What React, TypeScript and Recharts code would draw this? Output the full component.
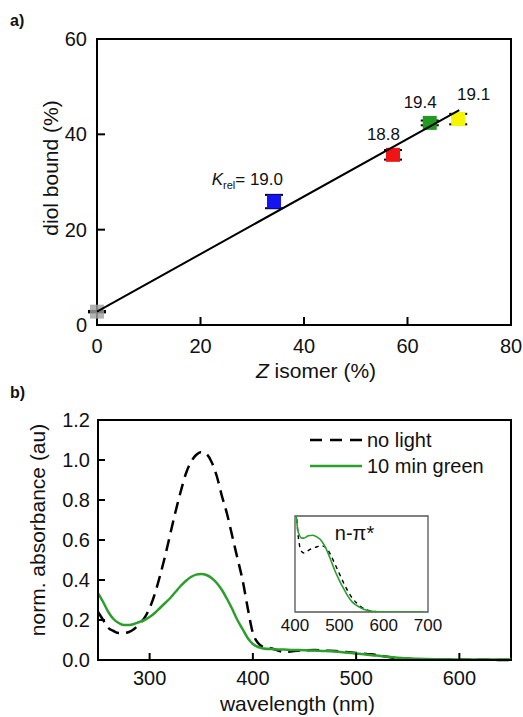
import { ScatterChart, Scatter, ComposedChart, LineChart, Line, XAxis, YAxis, ZAxis, ErrorBar, Cell, ReferenceArea, Legend } from 'recharts';

const FONT = '"Liberation Sans", Arial, sans-serif';
const GREEN = '#2b9f2b';

// panel a: diol binding vs Z isomer content
const zIsomer = [0, 34.2, 57.2, 64.3, 69.8];
const diolBound = [2.8, 25.9, 35.7, 42.4, 43.2];
const diolErr = [0.15, 1.4, 1.0, 0.5, 1.1];
const kRel = ['', '19.0', '18.8', '19.4', '19.1'];
const pointColors = ['#a0a0a0', '#1414f0', '#f01414', '#229922', '#f5f500'];
const fitZ = [0, 70];
const fitDiol = [2.8, 45.1];
const aXTicks = [0, 20, 40, 60, 80];
const aYTicks = [0, 20, 40, 60];

// panel b: absorbance spectra
const wavelength = [250, 255, 260, 265, 270, 275, 280, 285, 290, 295, 300, 305, 310, 315, 320, 325, 330, 335, 340, 345, 350, 355, 360, 365, 370, 375, 380, 385, 390, 395, 400, 405, 410, 420, 430, 440, 450, 460, 470, 480, 490, 500, 510, 520, 530, 540, 550, 560, 580, 600, 620, 650];
const noLight = [0.24, 0.2, 0.16, 0.145, 0.135, 0.135, 0.14, 0.155, 0.18, 0.21, 0.26, 0.33, 0.42, 0.52, 0.63, 0.74, 0.84, 0.93, 0.99, 1.025, 1.04, 1.03, 0.99, 0.92, 0.82, 0.73, 0.62, 0.51, 0.4, 0.26, 0.135, 0.085, 0.065, 0.055, 0.04, 0.045, 0.048, 0.05, 0.047, 0.045, 0.04, 0.035, 0.03, 0.025, 0.016, 0.009, 0.006, 0.004, 0.003, 0.002, 0.001, 0];
const greenLight = [0.335, 0.29, 0.24, 0.205, 0.185, 0.175, 0.175, 0.18, 0.19, 0.2, 0.215, 0.235, 0.26, 0.285, 0.31, 0.34, 0.37, 0.395, 0.415, 0.427, 0.43, 0.425, 0.41, 0.385, 0.35, 0.305, 0.255, 0.2, 0.155, 0.11, 0.08, 0.065, 0.058, 0.054, 0.052, 0.05, 0.049, 0.047, 0.045, 0.042, 0.037, 0.032, 0.027, 0.022, 0.016, 0.011, 0.008, 0.006, 0.004, 0.003, 0.002, 0.002];
const seriesNames = ['no light', '10 min green'];
const bXTicks = [300, 400, 500, 600];
const bYTicks = [0, 0.2, 0.4, 0.6, 0.8, 1.0, 1.2];

// inset: n-pi* band
const insetWavelength = [400, 403, 406, 410, 415, 420, 425, 430, 440, 450, 460, 470, 480, 490, 500, 510, 520, 530, 540, 550, 560, 570, 580, 600, 620, 650, 680, 690];
const insetGreen = [1.3, 1.0, 0.86, 0.8, 0.77, 0.77, 0.78, 0.795, 0.8, 0.78, 0.74, 0.66, 0.55, 0.43, 0.33, 0.24, 0.16, 0.1, 0.065, 0.04, 0.02, 0.01, 0.005, 0.002, 0, 0, 0, 0];
const insetNoLight = [1.3, 1.05, 0.85, 0.7, 0.63, 0.615, 0.62, 0.64, 0.665, 0.68, 0.69, 0.67, 0.6, 0.5, 0.4, 0.3, 0.21, 0.14, 0.09, 0.05, 0.025, 0.012, 0.005, 0, null, null, null, null];
const insetTicks = [400, 500, 600, 700];

// label offsets (text end x, baseline y) from each point centre
const labelShift = [[0, 0], [9, -17], [7, -15], [7, -15], [32, -19]];

const points = zIsomer.map((x, i) => ({ x, y: diolBound[i], err: diolErr[i], k: kRel[i], idx: i }));
const fitRows = fitZ.map((x, i) => ({ x, y: fitDiol[i] }));
const spectra = wavelength.map((wl, i) => ({ wl, noLight: noLight[i], green: greenLight[i] }));
const insetRows = insetWavelength.map((wl, i) => ({ wl, noLight: insetNoLight[i], green: insetGreen[i] }));

// positions of the inward tick marks on the bottom and left axes
const aMarks = [...aXTicks.slice(1, -1).map((x) => ({ x, y: 0, dir: 'up' })), ...aYTicks.slice(1, -1).map((y) => ({ x: 0, y, dir: 'right' }))];
const bMarks = [...bXTicks.map((wl) => ({ wl, mark: 0, dir: 'up' })), ...bYTicks.slice(1, -1).map((mark) => ({ wl: 250, mark, dir: 'right' }))];

const TickText = (props: any) => {
  const { x, y, payload, side, gap, fmt, fontSize = 20 } = props;
  const label = fmt ? fmt(payload.value) : payload.value;
  if (side === 'left') {
    return (
      <text x={x - gap} y={y} dy="0.35em" textAnchor="end" fontSize={fontSize} fontFamily={FONT} fill="#111">{label}</text>
    );
  }
  return (
    <text x={x} y={y + gap} textAnchor="middle" fontSize={fontSize} fontFamily={FONT} fill="#111">{label}</text>
  );
};

const markShape = (len: number) => (p: any) =>
  p.payload.dir === 'up' ? (
    <path d={`M${p.cx},${p.cy}V${p.cy - len}`} stroke="#000" strokeWidth={2} fill="none" />
  ) : (
    <path d={`M${p.cx},${p.cy}H${p.cx + len}`} stroke="#000" strokeWidth={2} fill="none" />
  );

const PointShape = (props: any) => {
  const { cx, cy, fill, payload } = props;
  const i = payload.idx;
  const s = 14;
  const [dx, dy] = labelShift[i];
  return (
    <g>
      <rect x={cx - s / 2} y={cy - s / 2} width={s} height={s} fill={fill} opacity={i === 0 ? 0.8 : 1} />
      {payload.k && (
        <text x={cx + dx} y={cy + dy} textAnchor="end" fontSize={17} fontFamily={FONT} fill="#111">
          {i === 1 && (
            <>
              <tspan fontStyle="italic">K</tspan>
              <tspan fontSize={11} dy={4}>rel</tspan>
              <tspan dy={-4}>= </tspan>
            </>
          )}
          {payload.k}
        </text>
      )}
    </g>
  );
};

const NoShape = () => <g />;

const yTitle = (text: string, dx: number, dy: number) => (props: any) => {
  const vb = props.viewBox || { x: 0, y: 0, width: 0, height: 0 };
  const x = vb.x + dx;
  const y = vb.y + vb.height / 2 + dy;
  return (
    <text x={x} y={y} transform={`rotate(-90, ${x}, ${y})`} textAnchor="middle" fontSize={21} fontFamily={FONT} fill="#111">
      {text}
    </text>
  );
};

const LegendBox = () => (
  <div style={{ fontFamily: FONT, fontSize: 20, color: '#111' }}>
    {seriesNames.map((name, i) => (
      <div key={name} style={{ display: 'flex', alignItems: 'center', height: 26 }}>
        <svg width={52} height={26}>
          <line x1={0} x2={52} y1={13} y2={13} stroke={i === 0 ? '#000' : GREEN} strokeWidth={2.5} strokeDasharray={i === 0 ? '12 8' : undefined} />
        </svg>
        <span style={{ marginLeft: 5 }}>{name}</span>
      </div>
    ))}
  </div>
);

const panelTag = { position: 'absolute' as const, left: 10, fontFamily: FONT, fontWeight: 700, fontSize: 16, lineHeight: '16px', color: '#111' };
const axisStroke = { stroke: '#000', strokeWidth: 2 };

export default function App() {
  return (
    <div style={{ position: 'absolute', left: 0, top: 0, width: 523, height: 717, background: '#fff', overflow: 'hidden' }}>
      <div style={{ ...panelTag, top: 13 }}>a)</div>
      <div style={{ position: 'absolute', left: 0, top: 0 }}>
        <ScatterChart width={523} height={390} margin={{ top: 39, right: 12, bottom: 15, left: 37 }}>
          <XAxis
            type="number"
            dataKey="x"
            domain={[0, 80]}
            ticks={aXTicks}
            interval={0}
            height={50}
            tickSize={0}
            tickMargin={0}
            tickLine={false}
            axisLine={axisStroke}
            tick={<TickText side="bottom" gap={28} />}
            label={{
              content: (props: any) => {
                const vb = props.viewBox || { x: 0, y: 0, width: 0 };
                return (
                  <text x={vb.x + vb.width / 2 + 12} y={vb.y + 53} textAnchor="middle" fontSize={21} fontFamily={FONT} fill="#111">
                    <tspan fontStyle="italic">Z</tspan> isomer (%)
                  </text>
                );
              },
            }}
          />
          <YAxis
            type="number"
            dataKey="y"
            domain={[0, 60]}
            ticks={aYTicks}
            interval={0}
            width={60}
            tickSize={0}
            tickMargin={0}
            tickLine={false}
            axisLine={axisStroke}
            tick={<TickText side="left" gap={10} />}
            label={{ content: yTitle('diol bound (%)', 21, -14) }}
          />
          <ZAxis range={[190, 190]} />
          <ReferenceArea x1={0} x2={80} y1={0} y2={60} fill="none" stroke="#000" strokeWidth={2} ifOverflow="visible" />
          <Scatter data={aMarks} shape={markShape(8)} isAnimationActive={false} />
          <Scatter data={points} shape={PointShape} isAnimationActive={false}>
            {points.map((p) => (
              <Cell key={p.idx} fill={pointColors[p.idx]} />
            ))}
          </Scatter>
          <Scatter data={fitRows} shape={NoShape} line={{ stroke: '#000', strokeWidth: 2 }} isAnimationActive={false} />
          <Scatter data={points} shape={NoShape} isAnimationActive={false}>
            <ErrorBar dataKey="err" direction="y" width={9} stroke="#000" strokeWidth={2} />
          </Scatter>
        </ScatterChart>
      </div>

      <div style={{ ...panelTag, top: 385 }}>b)</div>
      <div style={{ position: 'absolute', left: 0, top: 360 }}>
        <ComposedChart width={523} height={357} data={spectra} margin={{ top: 60, right: 12, bottom: 7, left: 38 }}>
          <XAxis
            type="number"
            dataKey="wl"
            domain={[250, 650]}
            ticks={bXTicks}
            interval={0}
            height={50}
            tickSize={0}
            tickMargin={0}
            tickLine={false}
            axisLine={axisStroke}
            tick={<TickText side="bottom" gap={25} />}
            label={{
              content: (props: any) => {
                const vb = props.viewBox || { x: 0, y: 0, width: 0 };
                return (
                  <text x={vb.x + vb.width / 2 - 7} y={vb.y + 51} textAnchor="middle" fontSize={21} fontFamily={FONT} fill="#111">
                    wavelength (nm)
                  </text>
                );
              },
            }}
          />
          <YAxis
            type="number"
            domain={[0, 1.2]}
            ticks={bYTicks}
            interval={0}
            width={60}
            tickSize={0}
            tickMargin={0}
            tickLine={false}
            axisLine={axisStroke}
            tick={<TickText side="left" gap={8} fmt={(v: number) => v.toFixed(1)} />}
            label={{ content: yTitle('norm. absorbance (au)', 7, -10) }}
          />
          <ReferenceArea x1={250} x2={650} y1={0} y2={1.2} fill="none" stroke="#000" strokeWidth={2} ifOverflow="visible" />
          <Legend
            layout="vertical"
            align="center"
            verticalAlign="middle"
            wrapperStyle={{ left: 310, top: 67, width: 210 }}
            content={() => <LegendBox />}
          />
          <Line type="monotone" dataKey="noLight" name={seriesNames[0]} stroke="#000" strokeWidth={2.5} strokeDasharray="12 7" dot={false} isAnimationActive={false} />
          <Line type="monotone" dataKey="green" name={seriesNames[1]} stroke={GREEN} strokeWidth={2.5} dot={false} isAnimationActive={false} />
          <Scatter data={bMarks} dataKey="mark" shape={markShape(7)} legendType="none" isAnimationActive={false} />
        </ComposedChart>
      </div>

      <div style={{ position: 'absolute', left: 275, top: 505 }}>
        <LineChart width={190} height={140} data={insetRows} margin={{ top: 11, right: 37, bottom: 3, left: 20 }}>
          <XAxis
            type="number"
            dataKey="wl"
            domain={[400, 700]}
            ticks={insetTicks}
            interval={0}
            height={30}
            tickSize={0}
            tickMargin={0}
            tickLine={false}
            axisLine={false}
            tick={<TickText side="bottom" gap={19} fontSize={17} />}
          />
          <YAxis hide type="number" domain={[0, 1]} allowDataOverflow />
          <ReferenceArea
            x1={400}
            x2={700}
            y1={0}
            y2={1}
            fill="none"
            stroke="#555"
            strokeWidth={1.3}
            ifOverflow="visible"
            label={{
              content: (props: any) => {
                const vb = props.viewBox || { x: 0, y: 0, width: 0 };
                return (
                  <text x={vb.x + vb.width / 2 - 7} y={vb.y + 24} textAnchor="middle" fontSize={20} fontFamily={FONT} fill="#111">
                    n-π*
                  </text>
                );
              },
            }}
          />
          <Line type="monotone" dataKey="noLight" stroke="#000" strokeWidth={1.4} strokeDasharray="4 4" dot={false} isAnimationActive={false} />
          <Line type="monotone" dataKey="green" stroke={GREEN} strokeWidth={1.6} dot={false} isAnimationActive={false} />
        </LineChart>
      </div>
    </div>
  );
}
